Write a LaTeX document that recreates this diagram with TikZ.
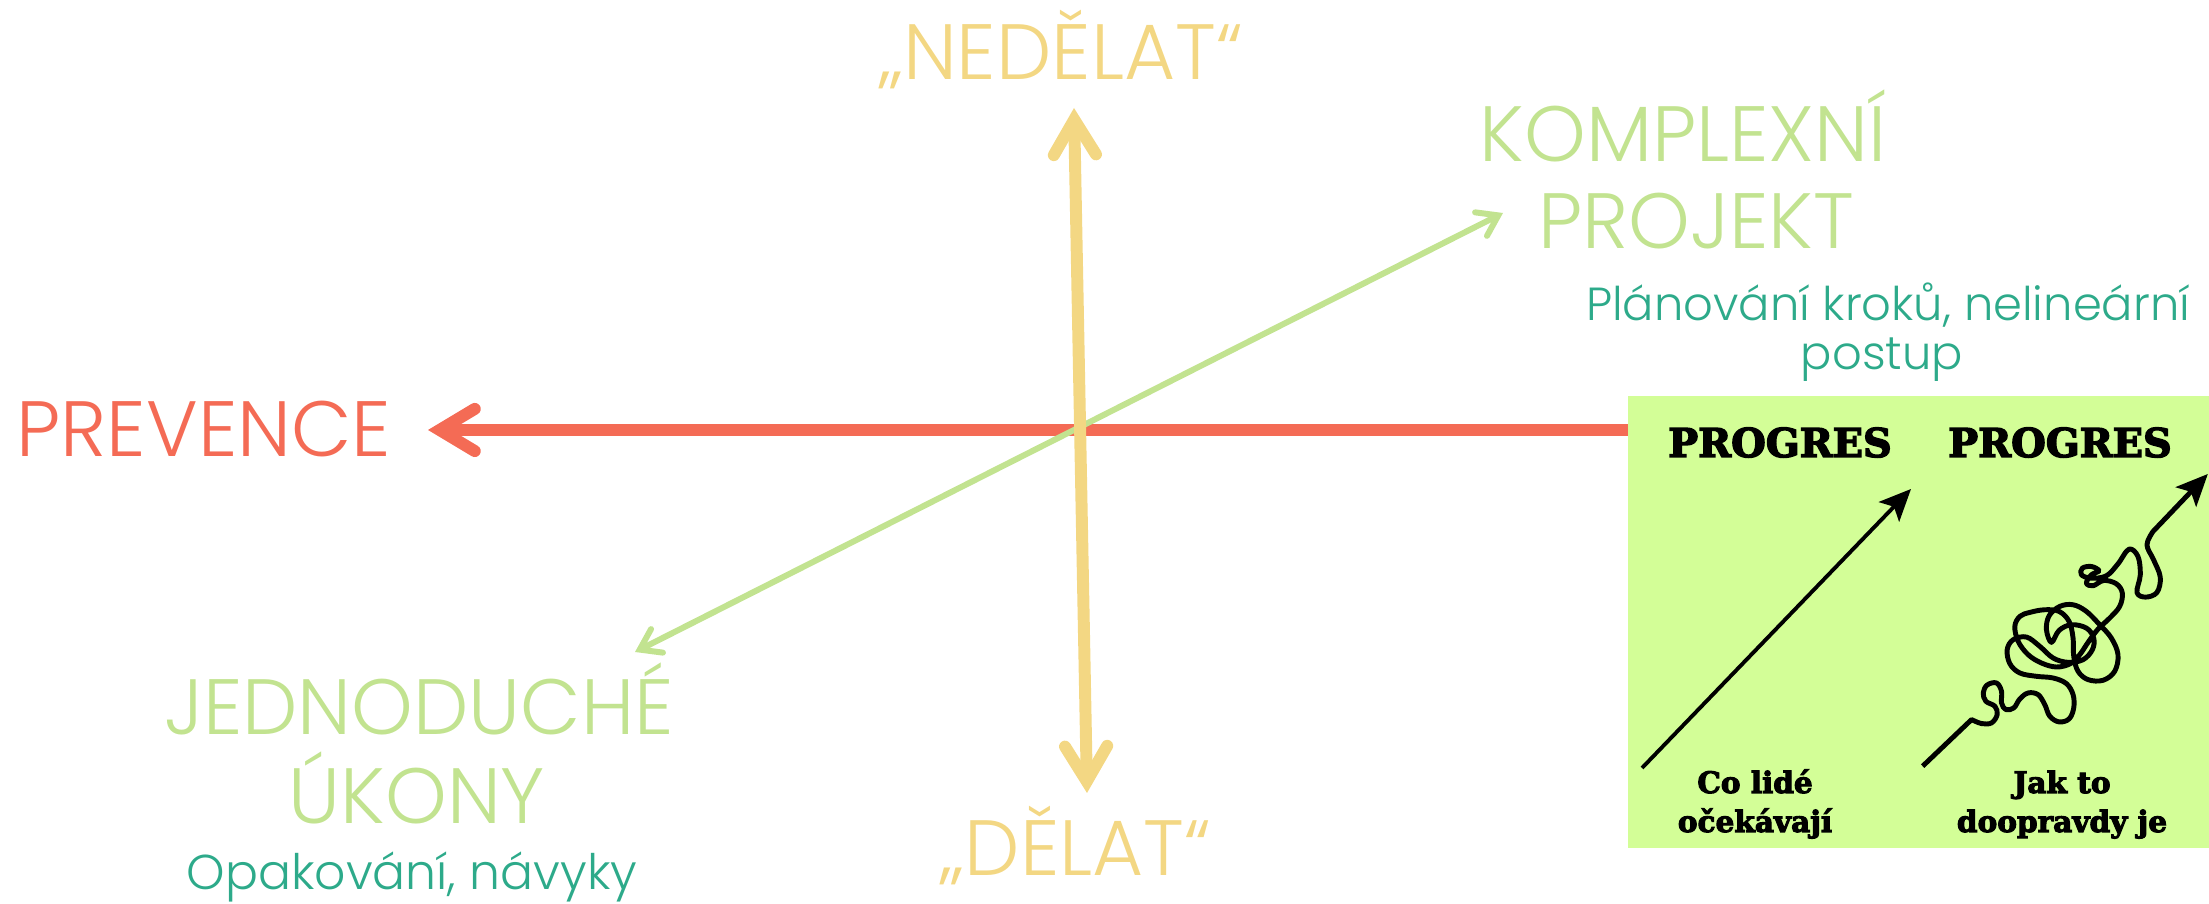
\documentclass[tikz,border=0pt]{standalone}
\usepackage{fontspec}
\setmainfont{Poppins Light}
\newfontfamily\slab{DejaVu Serif}[BoldFont={DejaVu Serif Bold}, BoldFeatures={FakeBold=3.5}]
\usetikzlibrary{arrows.meta}
\definecolor{cyellow}{HTML}{F3D783}
\definecolor{cgreen}{HTML}{C2E390}
\definecolor{cteal}{HTML}{2DAA8A}
\definecolor{cred}{HTML}{F46B55}
\definecolor{cpanel}{HTML}{D3FE97}
\begin{document}
\begin{tikzpicture}[x=0.01cm,y=-0.01cm,
  big/.style={font=\fontsize{22.3}{27}\selectfont, anchor=base, inner sep=0pt},
  sub/.style={font=\fontsize{13.9}{17}\selectfont, text=cteal, anchor=base, inner sep=0pt},
  head/.style={font=\slab\bfseries\fontsize{11.3}{13}\selectfont, anchor=base, inner sep=0pt},
  capt/.style={font=\slab\bfseries\fontsize{8.4}{11}\selectfont, anchor=base, inner sep=0pt},
  fatarrow/.style={line width=3.4pt, >={Straight Barb[length=10pt,width=12pt,line cap=round,line join=miter]}},
  thinarrow/.style={line width=1.7pt, cgreen, >={Straight Barb[length=5.5pt,width=7.5pt,line cap=round,line join=miter]}},
  blackarrow/.style={line width=1.1pt, black, -{Stealth[length=9pt,width=8pt,inset=2pt]}},
  squig/.style={line width=1.4pt, black, line join=round, -{Stealth[length=9pt,width=8pt,inset=2pt]}}
]
\useasboundingbox (0,0) rectangle (2209,904);

% coordinates of arrow ends
\coordinate (ytop) at (1074,108);
\coordinate (ybot) at (1087,793);
\coordinate (gll) at (635,652);
\coordinate (gur) at (1503,213);
\coordinate (rstart) at (1660,430);
\coordinate (rtip) at (428,430);

% red arrow (under the panel)
\draw[fatarrow, cred, ->] (rstart) -- (rtip);
% green diagonal
\draw[thinarrow, <->] (gll) -- (gur);
% yellow vertical
\draw[fatarrow, cyellow, <->] (ybot) -- (ytop);

% labels
\node[big, text=cyellow] (ned) at (1061,80) {„NEDĚLAT“};
\node[big, text=cyellow] (del) at (1076,876) {„DĚLAT“};
\node[big, text=cred] (prev) at (204,457) {PREVENCE};
\node[big, text=cgreen] (kom1) at (1683,162) {KOMPLEXNÍ};
\node[big, text=cgreen] (kom2) at (1696,249) {PROJEKT};
\node[sub, font=\fontsize{13.2}{16}\selectfont] (plan1) at (1888,321) {Plánování kroků, nelineární};
\node[sub, font=\fontsize{13.2}{16}\selectfont] (plan2) at (1882,370) {postup};
\node[big, text=cgreen] (jed1) at (419,735) {JEDNODUCHÉ};
\node[big, text=cgreen] (jed2) at (417,824) {ÚKONY};
\node[sub] (opak) at (412,890) {Opakování, návyky};

% panel
\node[fill=cpanel, inner sep=0pt, minimum width=5.82cm, minimum height=4.52cm, anchor=north west] (panel) at (1627,395) {};
\node[head] (prog1) at (1780,457) {PROGRES};
\node[head] (prog2) at (2060,457) {PROGRES};
\node[capt] (exp1) at (1755,793) {Co lidé};
\node[capt] (exp2) at (1755,832) {očekávají};
\node[capt] (real1) at (2062,793) {Jak to};
\node[capt] (real2) at (2062,832) {doopravdy je};

\coordinate (a1s) at (1642,768);
\coordinate (a1e) at (1911,489);
\draw[blackarrow] (a1s) -- (a1e);

\begin{scope}[shift={(1900,460)}, x=0.003333cm, y=-0.003333cm]
\coordinate (s0) at (68,920);
\coordinate (s1) at (215,780);
\coordinate (s3) at (925,42);
\draw[squig] (s0) -- (s1) -- plot[smooth, tension=0.6] coordinates {
(215,780) (245,792) (275,790) (292,765) (285,740) (258,725) (250,700) (262,676) (290,670) (305,695) (305,730) (318,750) (342,745) (360,718) (385,700) (415,705) (435,735) (450,770) (478,787) (508,778) (522,745) (520,705) (500,672) (460,655) (410,650) (360,640) (330,612) (322,570) (340,540) (380,532) (420,560) (460,595) (505,608) (550,600) (578,570) (582,535) (560,505) (515,495) (478,512) (455,548) (440,510) (448,468) (480,440) (520,435) (560,455) (600,495) (635,535) (655,585) (645,635) (610,662) (565,660) (535,635) (522,590) (520,535) (508,485) (478,455) (435,450) (390,458) (360,470) (345,500) (355,545) (385,585) (425,610) (470,622) (512,612) (540,585) (565,548) (595,508) (630,475) (660,440) (668,400) (650,372) (612,362) (580,378) (560,370) (575,345) (598,333) (575,320) (548,325) (545,345) (575,355) (620,348) (655,312) (688,268) (715,290) (722,345) (712,398) (738,412) (772,398) (782,352) (762,300) (742,255) (760,215)} -- (s3);
\end{scope}
\end{tikzpicture}
\end{document}
